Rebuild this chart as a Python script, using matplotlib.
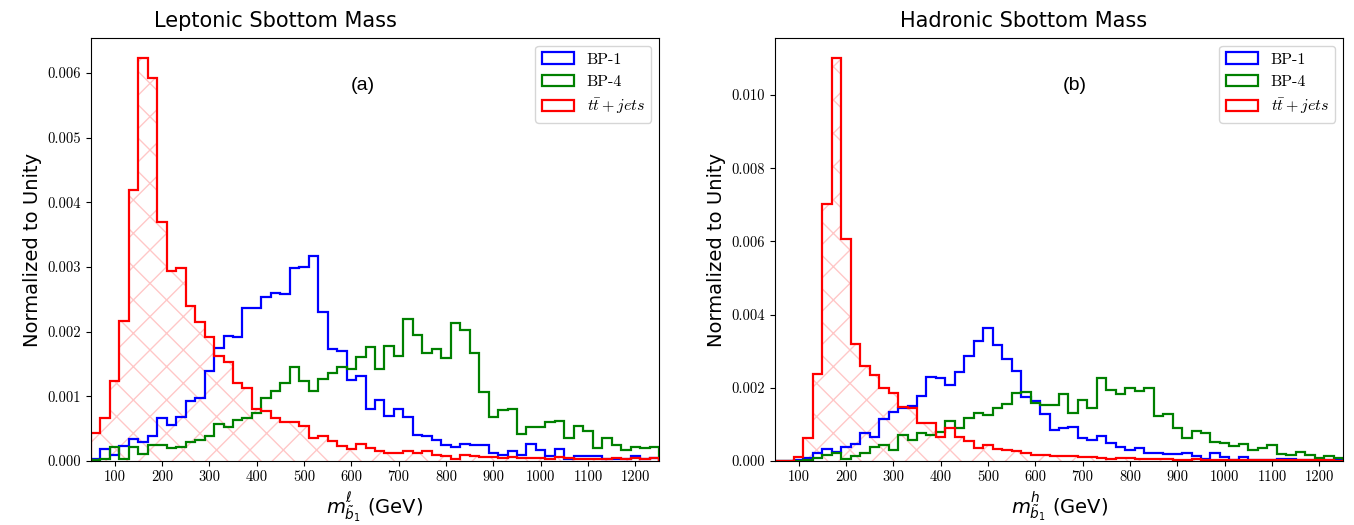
import numpy as np
import matplotlib
matplotlib.use("Agg")
import matplotlib.pyplot as plt
from matplotlib.font_manager import FontProperties
from matplotlib.ticker import FuncFormatter

# bins: 20 GeV wide, 50 -> 1250 GeV
bin_edges = np.arange(50, 1251, 20)

# ---- leptonic sbottom mass (panel a) ----
lep_bp1 = [0.00003, 0.00018, 0.00010, 0.00023, 0.00034, 0.00030, 0.00038, 0.00066, 0.00055, 0.00068,
           0.00093, 0.00098, 0.00139, 0.00174, 0.00194, 0.00191, 0.00237, 0.00237, 0.00254, 0.00259,
           0.00258, 0.00299, 0.00300, 0.00317, 0.00231, 0.00173, 0.00170, 0.00126, 0.00131, 0.00081,
           0.00094, 0.00070, 0.00080, 0.00068, 0.00040, 0.00039, 0.00032, 0.00024, 0.00022, 0.00027,
           0.00024, 0.00024, 0.00012, 0.00009, 0.00016, 0.00009, 0.00027, 0.00017, 0.00008, 0.00018,
           0.00003, 0.00007, 0.00008, 0.00008, 0.00003, 0.00003, 0.00003, 0.00008, 0.00003, 0.00004]
lep_bp4 = [0.00001, 0.00003, 0.00022, 0.00003, 0.00022, 0.00011, 0.00025, 0.00025, 0.00020, 0.00022,
           0.00029, 0.00032, 0.00038, 0.00057, 0.00052, 0.00063, 0.00066, 0.00074, 0.00098, 0.00108,
           0.00120, 0.00146, 0.00123, 0.00109, 0.00127, 0.00136, 0.00146, 0.00143, 0.00161, 0.00176,
           0.00143, 0.00178, 0.00162, 0.00219, 0.00195, 0.00167, 0.00173, 0.00160, 0.00214, 0.00203,
           0.00167, 0.00106, 0.00068, 0.00079, 0.00081, 0.00042, 0.00052, 0.00052, 0.00060, 0.00062,
           0.00036, 0.00054, 0.00047, 0.00020, 0.00035, 0.00025, 0.00017, 0.00022, 0.00020, 0.00022]
lep_ttbar = [0.00043, 0.00067, 0.00123, 0.00216, 0.00419, 0.00623, 0.00592, 0.00370, 0.00294, 0.00299,
             0.00240, 0.00215, 0.00192, 0.00162, 0.00153, 0.00120, 0.00113, 0.00081, 0.00077, 0.00066,
             0.00061, 0.00060, 0.00054, 0.00035, 0.00038, 0.00031, 0.00023, 0.00019, 0.00026, 0.00020,
             0.00015, 0.00013, 0.00013, 0.00016, 0.00012, 0.00016, 0.00009, 0.00008, 0.00003, 0.00009,
             0.00008, 0.00006, 0.00006, 0.00004, 0.00006, 0.00004, 0.00004, 0.00004, 0.00003, 0.00006,
             0.00004, 0.00003, 0.00003, 0.00003, 0.00003, 0.00004, 0.00003, 0.00004, 0.00003, 0.00004]

# ---- hadronic sbottom mass (panel b) ----
had_bp1 = [0.00000, 0.00000, 0.00002, 0.00007, 0.00021, 0.00032, 0.00024, 0.00037, 0.00046, 0.00076,
           0.00066, 0.00114, 0.00135, 0.00146, 0.00151, 0.00178, 0.00230, 0.00226, 0.00208, 0.00244,
           0.00287, 0.00328, 0.00364, 0.00317, 0.00279, 0.00247, 0.00174, 0.00163, 0.00128, 0.00085,
           0.00091, 0.00092, 0.00064, 0.00057, 0.00068, 0.00050, 0.00039, 0.00029, 0.00035, 0.00021,
           0.00023, 0.00018, 0.00019, 0.00021, 0.00015, 0.00006, 0.00021, 0.00010, 0.00004, 0.00011,
           0.00004, 0.00004, 0.00004, 0.00005, 0.00005, 0.00003, 0.00002, 0.00003, 0.00002, 0.00004]
had_bp4 = [0.00000, 0.00000, 0.00001, 0.00003, 0.00007, 0.00016, 0.00023, 0.00005, 0.00014, 0.00023,
           0.00039, 0.00044, 0.00030, 0.00072, 0.00057, 0.00076, 0.00071, 0.00080, 0.00109, 0.00089,
           0.00118, 0.00131, 0.00126, 0.00145, 0.00155, 0.00185, 0.00189, 0.00158, 0.00153, 0.00153,
           0.00182, 0.00130, 0.00167, 0.00144, 0.00226, 0.00194, 0.00183, 0.00199, 0.00192, 0.00199,
           0.00122, 0.00129, 0.00090, 0.00064, 0.00081, 0.00077, 0.00053, 0.00050, 0.00042, 0.00047,
           0.00030, 0.00036, 0.00044, 0.00018, 0.00017, 0.00024, 0.00017, 0.00009, 0.00015, 0.00007]
had_ttbar = [0.00000, 0.00001, 0.00012, 0.00063, 0.00237, 0.00701, 0.01102, 0.00606, 0.00319, 0.00260,
             0.00235, 0.00200, 0.00185, 0.00148, 0.00146, 0.00105, 0.00103, 0.00066, 0.00089, 0.00066,
             0.00056, 0.00036, 0.00044, 0.00033, 0.00031, 0.00027, 0.00021, 0.00017, 0.00016, 0.00014,
             0.00014, 0.00013, 0.00010, 0.00010, 0.00007, 0.00006, 0.00007, 0.00007, 0.00006, 0.00006,
             0.00005, 0.00005, 0.00004, 0.00004, 0.00005, 0.00004, 0.00003, 0.00003, 0.00004, 0.00003,
             0.00003, 0.00002, 0.00003, 0.00003, 0.00002, 0.00002, 0.00002, 0.00002, 0.00002, 0.00001]

labels = ["BP-1", "BP-4", r"$t\bar{t} + jets$"]
xticks = list(range(100, 1201, 100))

fig = plt.figure(figsize=(13.54, 5.25), dpi=100)
ax1 = fig.add_axes([0.0672, 0.1219, 0.4195, 0.8057])
ax2 = fig.add_axes([0.5724, 0.1219, 0.4195, 0.8057])

centers = 0.5 * (bin_edges[:-1] + bin_edges[1:])
tick_font = FontProperties(family="cmr10", size=10.5)
leg_font = FontProperties(family="cmr10", size=11.5, math_fontfamily="cm")


def draw_panel(ax, bp1, bp4, tt, title, tag, xlab, ymax, ystep, title_x, tag_x):
    # hatched background under ttbar
    ax.hist(centers, bins=bin_edges, weights=tt, histtype="stepfilled",
            facecolor="none", edgecolor=(1, 0, 0, 0.22), hatch="x", linewidth=0)
    ax.hist(centers, bins=bin_edges, weights=bp1, histtype="step", color="blue", lw=1.6, label=labels[0])
    ax.hist(centers, bins=bin_edges, weights=bp4, histtype="step", color="green", lw=1.6, label=labels[1])
    ax.hist(centers, bins=bin_edges, weights=tt, histtype="step", color="red", lw=1.6, label=labels[2])

    ax.set_xlim(50, 1250)
    ax.set_ylim(0, ymax)
    ax.set_xticks(xticks)
    ax.set_yticks(np.arange(0, ymax, ystep))
    ax.yaxis.set_major_formatter(FuncFormatter(lambda v, p: f"{v:.3f}"))
    for t in ax.get_xticklabels() + ax.get_yticklabels():
        t.set_fontproperties(tick_font)

    ax.set_title(title, fontsize=15, x=title_x, pad=8)
    ax.text(tag_x, 0.888, tag, transform=ax.transAxes, fontsize=14,
            family="Liberation Sans", ha="center", va="center")
    ax.set_xlabel(xlab, fontsize=14)
    ax.set_ylabel("Normalized to Unity", fontsize=14)
    ax.legend(loc="upper right", prop=leg_font)


draw_panel(ax1, lep_bp1, lep_bp4, lep_ttbar, "Leptonic Sbottom Mass", "(a)",
           r"$m_{\tilde{b}_1}^{\ell}$ (GeV)", 0.00654, 0.001, 0.324, 0.479)
draw_panel(ax2, had_bp1, had_bp4, had_ttbar, "Hadronic Sbottom Mass", "(b)",
           r"$m_{\tilde{b}_1}^{h}$ (GeV)", 0.01156, 0.002, 0.437, 0.528)

fig.savefig("out.png", dpi=100)
